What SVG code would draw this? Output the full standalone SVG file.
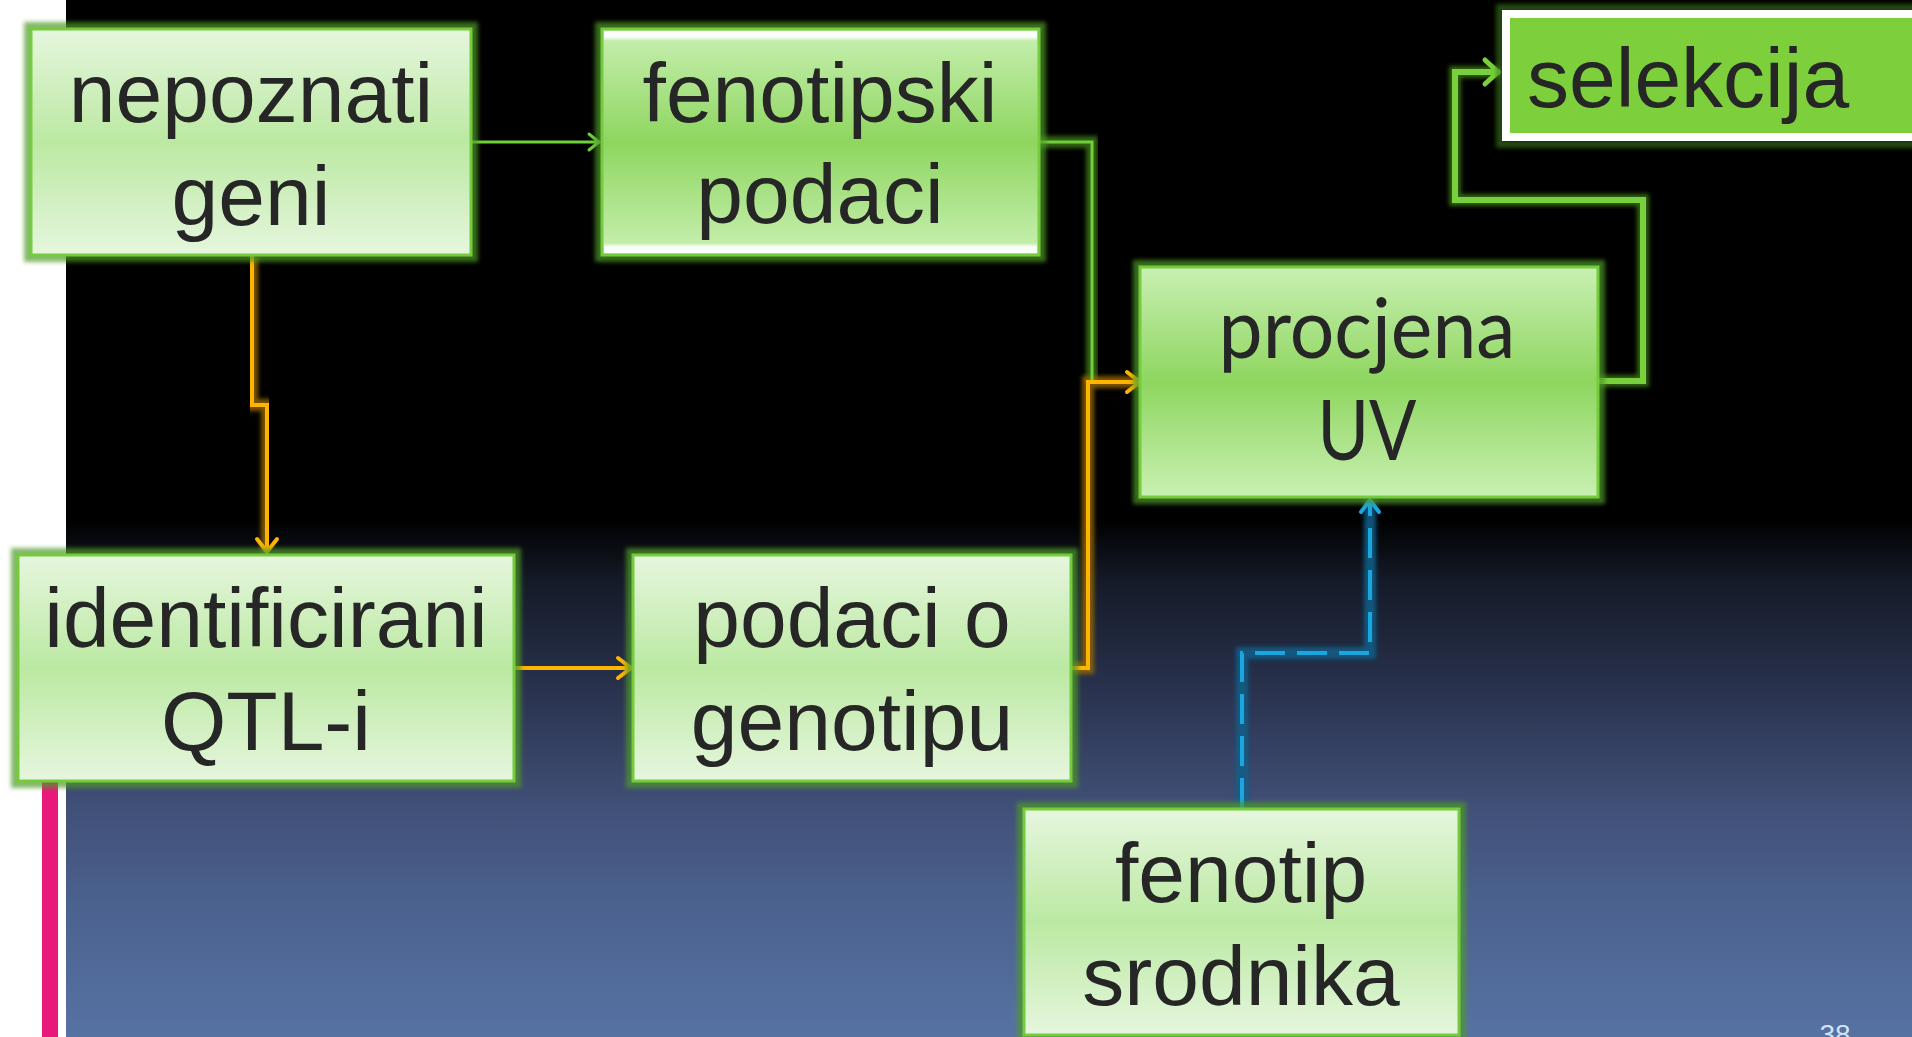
<svg xmlns="http://www.w3.org/2000/svg" width="1912" height="1037" viewBox="0 0 1912 1037">
<defs>
<linearGradient id="bg" x1="0" y1="0" x2="0" y2="1">
<stop offset="0" stop-color="#000"/>
<stop offset="0.5" stop-color="#000"/>
<stop offset="0.56" stop-color="#141a27"/>
<stop offset="0.655" stop-color="#27304a"/>
<stop offset="0.78" stop-color="#415078"/>
<stop offset="0.87" stop-color="#4b618e"/>
<stop offset="1" stop-color="#5672a3"/>
</linearGradient>
<linearGradient id="pale" x1="0" y1="0" x2="0" y2="1">
<stop offset="0" stop-color="#e6f6de"/>
<stop offset="0.5" stop-color="#bbe9a2"/>
<stop offset="1" stop-color="#e6f6de"/>
</linearGradient>
<linearGradient id="bright" x1="0" y1="0" x2="0" y2="1">
<stop offset="0" stop-color="#c9f0b3"/>
<stop offset="0.5" stop-color="#8ed65f"/>
<stop offset="1" stop-color="#c9f0b3"/>
</linearGradient>
<linearGradient id="bevT" x1="0" y1="0" x2="0" y2="1">
<stop offset="0" stop-color="#fff" stop-opacity="1"/>
<stop offset="0.6" stop-color="#fff" stop-opacity="0.9"/>
<stop offset="1" stop-color="#fff" stop-opacity="0"/>
</linearGradient>
<linearGradient id="bevB" x1="0" y1="1" x2="0" y2="0">
<stop offset="0" stop-color="#fff" stop-opacity="1"/>
<stop offset="0.6" stop-color="#fff" stop-opacity="0.9"/>
<stop offset="1" stop-color="#fff" stop-opacity="0"/>
</linearGradient>
<filter id="soft" x="-10%" y="-10%" width="120%" height="120%">
<feGaussianBlur stdDeviation="2"/>
</filter>
<marker id="ag" viewBox="-16 -12 20 24" refX="0" refY="0" markerWidth="20" markerHeight="24" markerUnits="userSpaceOnUse" orient="auto" overflow="visible">
<path d="M-11,-8 L-1,0 L-11,8" fill="none" stroke="#6fd03a" stroke-width="3" stroke-linecap="round"/>
</marker>
<marker id="agt" viewBox="-16 -12 20 24" refX="0" refY="0" markerWidth="20" markerHeight="24" markerUnits="userSpaceOnUse" orient="auto" overflow="visible">
<path d="M-15,-12 L-2,0 L-15,12" fill="none" stroke="#78d03c" stroke-width="5" stroke-linecap="round"/>
</marker>
<marker id="ao" viewBox="-16 -12 20 24" refX="0" refY="0" markerWidth="20" markerHeight="24" markerUnits="userSpaceOnUse" orient="auto" overflow="visible">
<path d="M-14,-10 L-1,0 L-14,10" fill="none" stroke="#ffb400" stroke-width="4" stroke-linecap="round"/>
</marker>
<marker id="ab" viewBox="-16 -12 20 24" refX="0" refY="0" markerWidth="20" markerHeight="24" markerUnits="userSpaceOnUse" orient="auto" overflow="visible">
<path d="M-13,-9 L-1,0 L-13,9" fill="none" stroke="#1aa6de" stroke-width="4" stroke-linecap="round"/>
</marker>
</defs>
<style>
.halo{fill:none;stroke:#4f9a26;stroke-opacity:0.7;stroke-width:14;filter:url(#soft)}
.box{stroke:#74cc3c;stroke-width:3}
.pale{fill:url(#pale)}
.bright{fill:url(#bright)}
.t{font-family:"Liberation Sans",Arial,sans-serif;font-size:84px;fill:#262626;text-anchor:middle}
.c{font-family:Lato,"Open Sans",sans-serif;font-size:84px;fill:#262626;text-anchor:middle}
.gG{fill:none;stroke:#3d7a1a;stroke-opacity:0.8;stroke-width:12;filter:url(#soft)}
.gO{fill:none;stroke:#9a6c00;stroke-opacity:0.8;stroke-width:12;filter:url(#soft)}
.gB{fill:none;stroke:#0e5f8a;stroke-opacity:0.85;stroke-width:12;filter:url(#soft)}
.lg{fill:none;stroke:#6fd03a;stroke-width:3}
.lgt{fill:none;stroke:#78d03c;stroke-width:6}
.lo{fill:none;stroke:#ffb400;stroke-width:4}
.lb{fill:none;stroke:#1aa6de;stroke-width:4;stroke-dasharray:30 12}
</style>
<rect x="0" y="0" width="1912" height="1037" fill="#fff"/>
<rect x="66" y="0" width="1846" height="1037" fill="url(#bg)"/>
<rect x="42" y="600" width="16" height="437" fill="#e8197a"/>

<g id="connectors">
<path class="gG" d="M471,142 H600"/>
<path class="gG" d="M1039,142 H1092 V382"/>
<path class="gG" d="M1598,381 H1643 V200 H1455 V72 H1500"/>
<path class="gO" d="M1072,668 H1088 V382 H1141"/>
<path class="gO" d="M252,256 V405 H267 V553"/>
<path class="gO" d="M514,668 H632"/>
<path class="gB" d="M1242,808 V653 H1370 V499"/>
<path class="lg" d="M471,142 H600" marker-end="url(#ag)"/>
<path class="lg" d="M1039,142 H1092 V382"/>
<path class="lgt" d="M1598,381 H1643 V200 H1455 V72 H1500" marker-end="url(#agt)"/>
<path class="lo" d="M1072,668 H1088 V382 H1141" marker-end="url(#ao)"/>
<path class="lo" d="M252,256 V405 H267 V553" marker-end="url(#ao)"/>
<path class="lo" d="M514,668 H632" marker-end="url(#ao)"/>
<path class="lb" d="M1242,808 V653 H1370 V499" marker-end="url(#ab)"/>
</g>

<g id="node-nepoznati-geni">
<rect class="halo" x="31" y="29" width="440" height="226"/>
<rect class="box pale" x="31" y="29" width="440" height="226"/>
<text class="t" x="251" y="122">nepoznati</text>
<text class="t" x="251" y="225">geni</text>
</g>

<g id="node-fenotipski-podaci">
<rect class="halo" x="602" y="29" width="437" height="226"/>
<rect class="box bright" x="602" y="29" width="437" height="226"/>
<rect x="604" y="31" width="433" height="10" fill="url(#bevT)"/>
<rect x="604" y="243" width="433" height="10" fill="url(#bevB)"/>
<text class="t" x="820" y="122">fenotipski</text>
<text class="t" x="820" y="223">podaci</text>
</g>

<g id="node-selekcija">
<rect x="1500" y="8" width="420" height="136" fill="none" stroke="#3d7a1a" stroke-opacity="0.6" stroke-width="8" style="filter:url(#soft)"/>
<rect x="1506" y="14" width="410" height="123" fill="#7dd03b" stroke="#fff" stroke-width="8"/>
<text class="t" x="1527" y="107" style="text-anchor:start">selekcija</text>
</g>

<g id="node-procjena-uv">
<rect class="halo" x="1140" y="267" width="458" height="230"/>
<rect class="box bright" x="1140" y="267" width="458" height="230"/>
<text class="c" x="1367" y="358" textLength="297" lengthAdjust="spacingAndGlyphs">procjena</text>
<text class="c" x="1367" y="460" textLength="99" lengthAdjust="spacingAndGlyphs">UV</text>
</g>

<g id="node-identificirani-qtl">
<rect class="halo" x="18" y="555" width="496" height="226"/>
<rect class="box pale" x="18" y="555" width="496" height="226"/>
<text class="t" x="266" y="647">identificirani</text>
<text class="t" x="266" y="750">QTL-i</text>
</g>

<g id="node-podaci-o-genotipu">
<rect class="halo" x="633" y="555" width="438" height="226"/>
<rect class="box pale" x="633" y="555" width="438" height="226"/>
<text class="t" x="852" y="647">podaci o</text>
<text class="t" x="852" y="750">genotipu</text>
</g>

<g id="node-fenotip-srodnika">
<rect class="halo" x="1024" y="809" width="435" height="226"/>
<rect class="box pale" x="1024" y="809" width="435" height="226"/>
<text class="t" x="1241" y="902">fenotip</text>
<text class="t" x="1241" y="1005">srodnika</text>
</g>

<text x="1835" y="1044" style="font-family:'Liberation Sans',Arial,sans-serif;font-size:28px;fill:#d4e2f4;text-anchor:middle">38</text>
</svg>
